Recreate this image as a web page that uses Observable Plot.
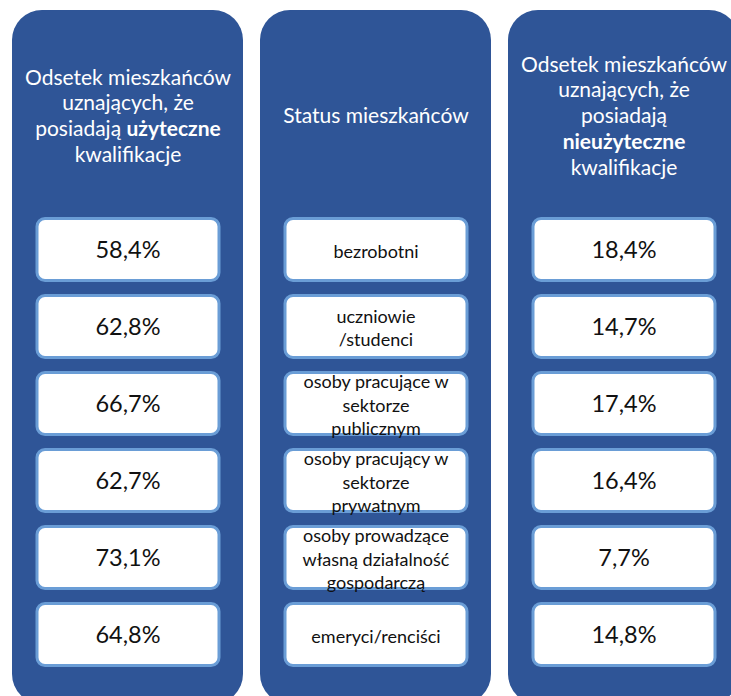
<!DOCTYPE html>
<html>
<head>
<meta charset="utf-8">
<script src="https://cdn.jsdelivr.net/npm/d3@7"></script>
<script src="https://cdn.jsdelivr.net/npm/@observablehq/plot@0.6"></script>
<style>
  html, body { margin: 0; padding: 0; background: #ffffff; overflow: hidden; }
  #chart svg { display: block; }
</style>
</head>
<body>
<div id="chart"></div>
<script>
// ---- data ----
const columns = ["useful", "status", "useless"];
const headers = [
  "Odsetek mieszkańców\nuznających, że\nposiadają *użyteczne*\nkwalifikacje",
  "Status mieszkańców",
  "Odsetek mieszkańców\nuznających, że\nposiadają\n*nieużyteczne*\nkwalifikacje"
];
const statuses = [
  "bezrobotni",
  "uczniowie\n/studenci",
  "osoby pracujące w\nsektorze\npublicznym",
  "osoby pracujący w\nsektorze\nprywatnym",
  "osoby prowadzące\nwłasną działalność\ngospodarczą",
  "emeryci/renciści"
];
const usefulPct = [58.4, 62.8, 66.7, 62.7, 73.1, 64.8];
const uselessPct = [18.4, 14.7, 17.4, 16.4, 7.7, 14.8];

// ---- tables built from the arrays ----
const headerRows = columns.map((c, i) => ({col: c, text: headers[i]}));
const fmt = v => v.toFixed(1).replace(".", ",") + "%";
const cells = [];
statuses.forEach((s, i) => {
  cells.push({col: "useful", row: s, text: fmt(usefulPct[i]), kind: "value"});
  cells.push({col: "status", row: s, text: s, kind: "label"});
  cells.push({col: "useless", row: s, text: fmt(uselessPct[i]), kind: "value"});
});

const PANEL = "#2f5597";
const BORDER = "#6a9dd6";
const FONT = "Lato, 'Open Sans', sans-serif";

const chart = Plot.plot({
  width: 731,
  height: 696,
  margin: 0,
  style: {background: "#ffffff", fontFamily: FONT},
  x: {type: "band", domain: columns, range: [11, 741], paddingInner: 0.068, paddingOuter: 0, axis: null},
  y: {type: "band", domain: statuses, range: [217, 667], paddingInner: 0.156, paddingOuter: 0, axis: null},
  marks: [
    // blue panels
    Plot.cell(columns, {x: d => d, fill: PANEL, rx: 30, insetTop: 10, insetBottom: -8}),
    // white boxes
    Plot.cell(cells, {x: "col", y: "row", fill: "#ffffff", stroke: BORDER, strokeWidth: 3,
      rx: 8, insetLeft: 25, insetRight: 24, insetTop: 1.5, insetBottom: 1.5}),
    // headers
    Plot.text(headerRows, {x: "col", text: "text", frameAnchor: "top", dy: 114.5,
      lineAnchor: "middle", lineHeight: 1.23, fill: "#ffffff", fontSize: 21}),
    // values
    Plot.text(cells.filter(d => d.kind === "value"), {x: "col", y: "row", text: "text",
      fill: "#111111", fontSize: 23.5, lineAnchor: "middle"}),
    // status labels
    Plot.text(cells.filter(d => d.kind === "label"), {x: "col", y: "row", text: "text",
      fill: "#111111", fontSize: 18, lineAnchor: "middle", lineHeight: 1.3})
  ]
});

// render bold segments marked with *...*
chart.querySelectorAll("text, tspan").forEach(el => {
  if (el.children.length) return;
  const t = el.textContent;
  if (!t.includes("*")) return;
  el.textContent = "";
  t.split(/(\*[^*]+\*)/).forEach(seg => {
    if (!seg) return;
    const span = document.createElementNS("http://www.w3.org/2000/svg", "tspan");
    if (seg.startsWith("*")) { span.setAttribute("font-weight", "bold"); seg = seg.slice(1, -1); }
    span.textContent = seg;
    el.appendChild(span);
  });
});

document.getElementById("chart").appendChild(chart);
</script>
</body>
</html>
